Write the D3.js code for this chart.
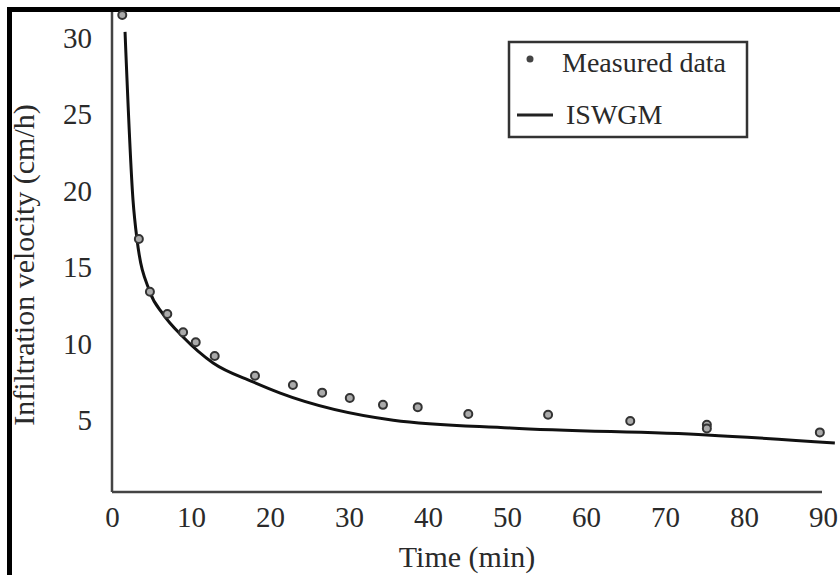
<!DOCTYPE html>
<html>
<head>
<meta charset="utf-8">
<script src="https://cdn.jsdelivr.net/npm/d3@7"></script>
<style>
	body	{ margin:0; background:#fff; }
	svg	{ display:block; font-family:"Liberation Serif","Times New Roman",serif; }
	.axis path	{ stroke:#444; stroke-width:2.5; }
	.axis text	{ fill:#2a2a2a; font-size:29px; font-family:"Liberation Serif",serif; }
</style>
</head>
<body>
<div id="chart"></div>
<script>
// measured infiltration velocity (cm/h) against time (min)
var	measuredTime	= [1.3, 3.4, 4.8, 7.0, 9.0, 10.6, 13.0, 18.1, 22.9, 26.6, 30.1, 34.3, 38.7, 45.1, 55.2, 65.6, 75.3, 75.3, 89.6],
	measuredVel	= [31.5, 16.85, 13.4, 11.95, 10.75, 10.1, 9.2, 7.9, 7.3, 6.8, 6.45, 6.0, 5.85, 5.4, 5.35, 4.95, 4.7, 4.45, 4.2];
// ISWGM model curve
var	modelTime	= [1.65, 2.66, 3.16, 4.8, 6.46, 9.0, 12.8, 17.85, 21.3, 35.6, 50.4, 75.3, 91.5],
	modelVel	= [30.4, 19.4, 16.85, 13.38, 11.94, 10.44, 8.74, 7.5, 6.77, 5.0, 4.49, 4.03, 3.5];
var	xTicks	= [0, 10, 20, 30, 40, 50, 60, 70, 80, 90],
	yTicks	= [5, 10, 15, 20, 25, 30];

function drawChart(id) {
	var	W	= 840, H = 575,
		svg	= d3.select("#"+id).append("svg").attr("width", W).attr("height", H),
		x	= d3.scaleLinear().domain([0, 90]).range([112, 823]),
		y	= d3.scaleLinear().domain([0.3, 31.7]).range([492, 12]);

	// outer frame (only top and left edges fall inside the picture)
	svg.append("rect").attr("x", 9.5).attr("y", 9.5).attr("width", 1000).attr("height", 1000)
		.attr("fill", "none").attr("stroke", "#000").attr("stroke-width", 5);

	svg.append("g").attr("class", "axis").attr("transform", "translate(0,492)")
		.call(d3.axisBottom(x).tickValues(xTicks).tickSize(0).tickPadding(14).tickFormat(d3.format("d")))
		.call(function(g) { g.select(".domain").attr("d", "M112,0H822"); });
	svg.append("g").attr("class", "axis").attr("transform", "translate(112,0)")
		.call(d3.axisLeft(y).tickValues(yTicks).tickSize(0).tickPadding(20))
		.call(function(g) { g.select(".domain").attr("d", "M0,12V492"); });
	svg.selectAll(".axis text").attr("font-family", null);

	svg.append("text").attr("transform", "translate(34,265) rotate(-90)")
		.attr("text-anchor", "middle").attr("fill", "#2a2a2a").style("font-size", "30px")
		.text("Infiltration velocity (cm/h)");
	svg.append("text").attr("x", 467).attr("y", 567)
		.attr("text-anchor", "middle").attr("fill", "#2a2a2a").style("font-size", "30px")
		.text("Time (min)");

	var	line	= d3.line().x(function(d) { return x(d[0]); }).y(function(d) { return y(d[1]); }).curve(d3.curveMonotoneX);
	svg.append("path").datum(d3.zip(modelTime, modelVel))
		.attr("d", line).attr("fill", "none").attr("stroke", "#111").attr("stroke-width", 3);

	svg.append("g").selectAll("circle").data(d3.zip(measuredTime, measuredVel)).enter().append("circle")
		.attr("cx", function(d) { return x(d[0]); })
		.attr("cy", function(d) { return y(d[1]); })
		.attr("r", 4).attr("fill", "#aaa").attr("stroke", "#333").attr("stroke-width", 2);

	// legend
	var	lg	= svg.append("g");
	lg.append("rect").attr("x", 509).attr("y", 42).attr("width", 238).attr("height", 95)
		.attr("fill", "#fff").attr("stroke", "#333").attr("stroke-width", 2.5);
	lg.append("circle").attr("cx", 530).attr("cy", 59).attr("r", 3.5).attr("fill", "#444");
	lg.append("text").attr("x", 562).attr("y", 72).attr("fill", "#2a2a2a").style("font-size", "28px").text("Measured data");
	lg.append("line").attr("x1", 517).attr("x2", 553).attr("y1", 115).attr("y2", 115).attr("stroke", "#222").attr("stroke-width", 3);
	lg.append("text").attr("x", 566).attr("y", 124).attr("fill", "#2a2a2a").style("font-size", "28px").text("ISWGM");
}

drawChart("chart");
</script>
</body>
</html>
